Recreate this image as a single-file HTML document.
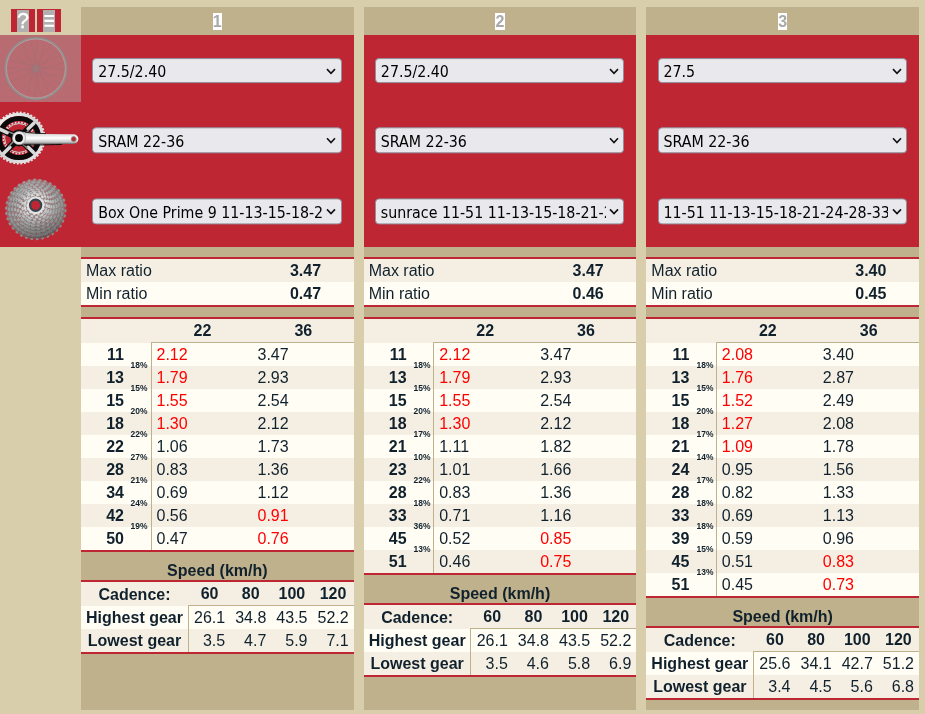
<!DOCTYPE html>
<html><head><meta charset="utf-8"><title>Gear ratios</title>
<style>
html,body{margin:0;padding:0}
body{width:925px;height:714px;overflow:hidden;background:#D9CEAC;position:relative;
 font-family:"Liberation Sans",sans-serif;font-size:16px;color:#10212D}
.abs,.col,.col div,.col span,.left div{position:absolute;box-sizing:border-box}
.col{top:7px;height:703px;width:272.67px;background:#BFB18C;overflow:hidden}
.num{left:0;right:0;top:6px;height:18px;text-align:center;line-height:18px;font-weight:bold;color:#A9A9A9}
.num span{position:static!important;background:#fff;display:inline-block;height:17px;line-height:18px;width:9.4px}
.redbox{left:0;right:0;top:28px;height:212px;background:#BE2633}
.sel{left:11.3px;width:249.4px;height:24.6px;background:#E9E9ED;border:1px solid #8F8F9D;border-radius:4px;
 font-family:"DejaVu Sans Condensed","DejaVu Sans",sans-serif;font-size:15.8px;color:#000;line-height:23px;
 padding:0 24px 0 4px;white-space:nowrap;overflow:hidden}
.sel svg{position:absolute;right:4.4px}
.sel .st{left:4.9px;right:17.7px;top:1px;bottom:-1px;overflow:hidden}
.rl{left:0;right:0;height:2px;background:#BE2633}
.row{left:0;right:0;height:23px;line-height:23px;white-space:nowrap}
.a{background:#F5EFE3}.b{background:#FFFDF4}
.b1{font-weight:bold}
.c{top:0;height:23px}
.pct{font-size:9.3px;font-weight:bold;line-height:10px;height:10px;left:48.2px;width:20px;text-align:center;transform:scaleX(.91)}
.r{color:#F00}
.cap{left:0;right:0;height:18px;line-height:18px;text-align:center;font-weight:bold}
.vb{width:1px;background:#BFB18C}
.hb{height:1px;background:#BFB18C}
.btn{background:#BE2633;top:9px;height:23px;width:24px;text-align:center;color:#fff;font-size:21.5px;line-height:21px;-webkit-text-stroke:.35px #fff}
.btn span{position:static!important;display:inline-block;background:#B0B0B0;width:12px;height:22px;margin-top:1px;line-height:22px;vertical-align:top}
</style></head><body>

<div class="left">
<div class="btn" style="left:11px"><span>?</span></div>
<div class="btn" style="left:37px"><span><i style="display:inline-block;font-style:normal;-webkit-text-stroke:0;transform:translateY(-0.3px) scale(0.92,1.32)">&#8801;</i></span></div>
<div style="left:0;top:35px;width:81px;height:212px;background:#BE2633"></div>
<div style="left:0;top:35px;width:81px;height:66.7px;background:#B86B70"></div>
<svg class="abs" style="left:0;top:35px" width="81" height="212" viewBox="0 35 81 212">
<defs>
<linearGradient id="arm" x1="0" y1="0" x2="0" y2="1"><stop offset="0" stop-color="#8f8f8f"/><stop offset=".18" stop-color="#d9d9d9"/><stop offset=".5" stop-color="#ffffff"/><stop offset=".8" stop-color="#c4c4c4"/><stop offset="1" stop-color="#3a3a3a"/></linearGradient>
<linearGradient id="ring" x1="0" y1="0" x2="1" y2="1"><stop offset="0" stop-color="#f4f4f4"/><stop offset=".5" stop-color="#d2d2d2"/><stop offset="1" stop-color="#e8e8e8"/></linearGradient>
<radialGradient id="cas" cx="0.5" cy="0.44" r="0.55"><stop offset="0" stop-color="#f2f2f2"/><stop offset=".35" stop-color="#dcdcdc"/><stop offset=".7" stop-color="#b4b4b4"/><stop offset="1" stop-color="#a2a2a2"/></radialGradient>
<linearGradient id="casd" x1="0.3" y1="0" x2="0.6" y2="1"><stop offset="0" stop-color="#fff" stop-opacity=".12"/><stop offset=".45" stop-color="#777" stop-opacity="0"/><stop offset="1" stop-color="#303030" stop-opacity=".42"/></linearGradient>
</defs>
<line x1="37.62" y1="66.55" x2="66.46" y2="70.03" stroke="#8e7478" stroke-width=".4" opacity=".7"/>
<line x1="36.81" y1="70.93" x2="65.02" y2="77.89" stroke="#8e7478" stroke-width=".4" opacity=".7"/>
<line x1="38.36" y1="67.67" x2="61.60" y2="85.11" stroke="#8e7478" stroke-width=".4" opacity=".7"/>
<line x1="35.47" y1="71.06" x2="56.43" y2="91.19" stroke="#8e7478" stroke-width=".4" opacity=".7"/>
<line x1="38.45" y1="69.01" x2="49.86" y2="95.73" stroke="#8e7478" stroke-width=".4" opacity=".7"/>
<line x1="34.25" y1="70.51" x2="42.33" y2="98.42" stroke="#8e7478" stroke-width=".4" opacity=".7"/>
<line x1="37.85" y1="70.22" x2="34.37" y2="99.06" stroke="#8e7478" stroke-width=".4" opacity=".7"/>
<line x1="33.47" y1="69.41" x2="26.51" y2="97.62" stroke="#8e7478" stroke-width=".4" opacity=".7"/>
<line x1="36.73" y1="70.96" x2="19.29" y2="94.20" stroke="#8e7478" stroke-width=".4" opacity=".7"/>
<line x1="33.34" y1="68.07" x2="13.21" y2="89.03" stroke="#8e7478" stroke-width=".4" opacity=".7"/>
<line x1="35.39" y1="71.05" x2="8.67" y2="82.46" stroke="#8e7478" stroke-width=".4" opacity=".7"/>
<line x1="33.89" y1="66.85" x2="5.98" y2="74.93" stroke="#8e7478" stroke-width=".4" opacity=".7"/>
<line x1="34.18" y1="70.45" x2="5.34" y2="66.97" stroke="#8e7478" stroke-width=".4" opacity=".7"/>
<line x1="34.99" y1="66.07" x2="6.78" y2="59.11" stroke="#8e7478" stroke-width=".4" opacity=".7"/>
<line x1="33.44" y1="69.33" x2="10.20" y2="51.89" stroke="#8e7478" stroke-width=".4" opacity=".7"/>
<line x1="36.33" y1="65.94" x2="15.37" y2="45.81" stroke="#8e7478" stroke-width=".4" opacity=".7"/>
<line x1="33.35" y1="67.99" x2="21.94" y2="41.27" stroke="#8e7478" stroke-width=".4" opacity=".7"/>
<line x1="37.55" y1="66.49" x2="29.47" y2="38.58" stroke="#8e7478" stroke-width=".4" opacity=".7"/>
<line x1="33.95" y1="66.78" x2="37.43" y2="37.94" stroke="#8e7478" stroke-width=".4" opacity=".7"/>
<line x1="38.33" y1="67.59" x2="45.29" y2="39.38" stroke="#8e7478" stroke-width=".4" opacity=".7"/>
<line x1="35.07" y1="66.04" x2="52.51" y2="42.80" stroke="#8e7478" stroke-width=".4" opacity=".7"/>
<line x1="38.46" y1="68.93" x2="58.59" y2="47.97" stroke="#8e7478" stroke-width=".4" opacity=".7"/>
<line x1="36.41" y1="65.95" x2="63.13" y2="54.54" stroke="#8e7478" stroke-width=".4" opacity=".7"/>
<line x1="37.91" y1="70.15" x2="65.82" y2="62.07" stroke="#8e7478" stroke-width=".4" opacity=".7"/>
<circle cx="35.9" cy="68.5" r="30.6" fill="none" stroke="#8f8f8f" stroke-width="1.7"/>
<circle cx="35.9" cy="68.5" r="29.5" fill="none" stroke="#b9b0b2" stroke-width=".7"/>
<circle cx="35.9" cy="68.7" r="2.3" fill="none" stroke="#868686" stroke-width="1.1"/>
<g>
<circle cx="19.00" cy="138.00" r="25.60" fill="none" stroke="#e4e4e4" stroke-width="1.80" stroke-dasharray="2.011 1.645" />
<circle cx="19.00" cy="138.00" r="23.60" fill="none" stroke="url(#ring)" stroke-width="3.40" />
<circle cx="19.00" cy="138.00" r="19.50" fill="none" stroke="#0b0b0b" stroke-width="5.20" />
<circle cx="19.00" cy="138.00" r="16.90" fill="#BE2633" stroke="#BE2633" stroke-width="0.00" />
<circle cx="19.00" cy="138.00" r="15.60" fill="none" stroke="#dcdcdc" stroke-width="1.60" stroke-dasharray="1.797 1.470" />
<circle cx="19.00" cy="138.00" r="14.40" fill="none" stroke="#cfcfcf" stroke-width="1.00" />
<circle cx="19.00" cy="138.00" r="7.40" fill="none" stroke="#141414" stroke-width="2.00" />
<line x1="19.00" y1="138.00" x2="32.08" y2="124.92" stroke="#0b0b0b" stroke-width="6.4" stroke-linecap="butt"/>
<line x1="28.19" y1="128.81" x2="33.85" y2="123.15" stroke="#dadada" stroke-width="3.6" stroke-linecap="round"/>
<line x1="24.16" y1="134.94" x2="29.06" y2="129.77" stroke="#8a8a8a" stroke-width="1.6"/>
<line x1="19.00" y1="138.00" x2="32.08" y2="151.08" stroke="#0b0b0b" stroke-width="6.4" stroke-linecap="butt"/>
<line x1="28.19" y1="147.19" x2="34.56" y2="153.56" stroke="#dadada" stroke-width="3.6" stroke-linecap="round"/>
<line x1="22.06" y1="143.16" x2="27.23" y2="148.06" stroke="#8a8a8a" stroke-width="1.6"/>
<line x1="19.00" y1="138.00" x2="5.92" y2="151.08" stroke="#0b0b0b" stroke-width="6.4" stroke-linecap="butt"/>
<line x1="9.81" y1="147.19" x2="3.44" y2="153.56" stroke="#dadada" stroke-width="3.6" stroke-linecap="round"/>
<line x1="13.84" y1="141.06" x2="8.94" y2="146.23" stroke="#8a8a8a" stroke-width="1.6"/>
<line x1="19.00" y1="138.00" x2="2.23" y2="130.18" stroke="#0b0b0b" stroke-width="6.4" stroke-linecap="butt"/>
<line x1="7.22" y1="132.51" x2="-2.75" y2="127.86" stroke="#dadada" stroke-width="3.6" stroke-linecap="round"/>
<line x1="14.36" y1="134.20" x2="7.83" y2="131.36" stroke="#8a8a8a" stroke-width="1.6"/>
<path d="M19 131.6 C26 132.2 34 133.6 44 133.9 L73.6 134.3 A4.8 4.8 0 0 1 73.6 143.9 L44 144.3 C34 144.6 27 145 19 144.6 Z" fill="url(#arm)"/>
<path d="M24 144.9 C34 145.2 44 144.9 62 144.4" fill="none" stroke="#111" stroke-width="1"/>
<path d="M25 132.2 C31 133 38 133.4 46 133.6" fill="none" stroke="#1a1a1a" stroke-width=".9"/>
<circle cx="19.00" cy="138.00" r="6.60" fill="#e9e9e9" stroke="#9a9a9a" stroke-width="0.60" />
<circle cx="19.00" cy="138.00" r="3.90" fill="#050505" stroke="none" stroke-width="0.00" />
<circle cx="73.7" cy="139.1" r="2.5" fill="#BE2633" stroke="#8c8c8c" stroke-width=".8"/>
</g>
<g>
<circle cx="35.80" cy="209.40" r="29.50" fill="none" stroke="#8e8e8e" stroke-width="2.6" stroke-dasharray="2.453 2.998" transform="rotate(0 35.80 209.40)"/>
<circle cx="35.80" cy="209.40" r="28.70" fill="#5c5c5c"/>
<circle cx="35.80" cy="209.40" r="28.10" fill="#8e8e8e"/>
<circle cx="35.80" cy="209.40" r="27.20" fill="none" stroke="#b02a35" stroke-width="1.6" stroke-dasharray="1.514 3.532" opacity=".8" transform="rotate(3 35.80 209.40)"/>
<circle cx="35.80" cy="209.40" r="27.30" fill="none" stroke="#3c3c3c" stroke-width="1.2" stroke-dasharray="1.261 3.784" opacity=".75" transform="rotate(8 35.80 209.40)"/>
<circle cx="35.80" cy="208.90" r="26.40" fill="none" stroke="#949494" stroke-width="2.6" stroke-dasharray="2.488 3.041" transform="rotate(7 35.80 208.90)"/>
<circle cx="35.80" cy="208.90" r="25.60" fill="#5c5c5c"/>
<circle cx="35.80" cy="208.90" r="25.00" fill="#949494"/>
<circle cx="35.80" cy="208.90" r="24.10" fill="none" stroke="#b02a35" stroke-width="1.6" stroke-dasharray="1.521 3.548" opacity=".8" transform="rotate(10 35.80 208.90)"/>
<circle cx="35.80" cy="208.90" r="24.20" fill="none" stroke="#3c3c3c" stroke-width="1.2" stroke-dasharray="1.267 3.801" opacity=".75" transform="rotate(15 35.80 208.90)"/>
<circle cx="35.80" cy="208.40" r="23.40" fill="none" stroke="#9c9c9c" stroke-width="2.6" stroke-dasharray="2.450 2.995" transform="rotate(14 35.80 208.40)"/>
<circle cx="35.80" cy="208.40" r="22.60" fill="#5c5c5c"/>
<circle cx="35.80" cy="208.40" r="22.00" fill="#9c9c9c"/>
<circle cx="35.80" cy="208.40" r="21.10" fill="none" stroke="#b02a35" stroke-width="1.6" stroke-dasharray="1.480 3.453" opacity=".8" transform="rotate(17 35.80 208.40)"/>
<circle cx="35.80" cy="208.40" r="21.20" fill="none" stroke="#3c3c3c" stroke-width="1.2" stroke-dasharray="1.233 3.700" opacity=".75" transform="rotate(22 35.80 208.40)"/>
<circle cx="35.80" cy="207.90" r="20.60" fill="none" stroke="#a6a6a6" stroke-width="2.6" stroke-dasharray="2.427 2.966" transform="rotate(21 35.80 207.90)"/>
<circle cx="35.80" cy="207.90" r="19.80" fill="#5c5c5c"/>
<circle cx="35.80" cy="207.90" r="19.20" fill="#a6a6a6"/>
<circle cx="35.80" cy="207.90" r="18.30" fill="none" stroke="#b02a35" stroke-width="1.6" stroke-dasharray="1.445 3.372" opacity=".8" transform="rotate(24 35.80 207.90)"/>
<circle cx="35.80" cy="207.90" r="18.40" fill="none" stroke="#3c3c3c" stroke-width="1.2" stroke-dasharray="1.204 3.613" opacity=".75" transform="rotate(29 35.80 207.90)"/>
<circle cx="35.80" cy="207.40" r="17.90" fill="none" stroke="#b2b2b2" stroke-width="2.6" stroke-dasharray="2.410 2.946" transform="rotate(28 35.80 207.40)"/>
<circle cx="35.80" cy="207.40" r="17.10" fill="#5c5c5c"/>
<circle cx="35.80" cy="207.40" r="16.50" fill="#b2b2b2"/>
<circle cx="35.80" cy="207.40" r="15.60" fill="none" stroke="#b02a35" stroke-width="1.6" stroke-dasharray="1.409 3.288" opacity=".8" transform="rotate(31 35.80 207.40)"/>
<circle cx="35.80" cy="207.40" r="15.70" fill="none" stroke="#3c3c3c" stroke-width="1.2" stroke-dasharray="1.174 3.523" opacity=".75" transform="rotate(36 35.80 207.40)"/>
<circle cx="35.80" cy="206.80" r="15.40" fill="none" stroke="#c0c0c0" stroke-width="2.6" stroke-dasharray="2.419 2.957" transform="rotate(35 35.80 206.80)"/>
<circle cx="35.80" cy="206.80" r="14.60" fill="#5c5c5c"/>
<circle cx="35.80" cy="206.80" r="14.00" fill="#c0c0c0"/>
<circle cx="35.80" cy="206.80" r="13.10" fill="none" stroke="#b02a35" stroke-width="1.6" stroke-dasharray="1.382 3.225" opacity=".8" transform="rotate(38 35.80 206.80)"/>
<circle cx="35.80" cy="206.80" r="13.20" fill="none" stroke="#3c3c3c" stroke-width="1.2" stroke-dasharray="1.152 3.456" opacity=".75" transform="rotate(43 35.80 206.80)"/>
<circle cx="35.80" cy="206.20" r="13.10" fill="none" stroke="#cecece" stroke-width="2.6" stroke-dasharray="2.469 3.018" transform="rotate(42 35.80 206.20)"/>
<circle cx="35.80" cy="206.20" r="12.30" fill="#5c5c5c"/>
<circle cx="35.80" cy="206.20" r="11.70" fill="#cecece"/>
<circle cx="35.80" cy="206.20" r="10.80" fill="none" stroke="#b02a35" stroke-width="1.6" stroke-dasharray="1.370 3.196" opacity=".8" transform="rotate(45 35.80 206.20)"/>
<circle cx="35.80" cy="206.20" r="10.90" fill="none" stroke="#3c3c3c" stroke-width="1.2" stroke-dasharray="1.141 3.424" opacity=".75" transform="rotate(50 35.80 206.20)"/>
<circle cx="35.80" cy="205.80" r="10.90" fill="none" stroke="#dadada" stroke-width="2.6" stroke-dasharray="2.371 2.898" transform="rotate(49 35.80 205.80)"/>
<circle cx="35.80" cy="205.80" r="10.10" fill="#5c5c5c"/>
<circle cx="35.80" cy="205.80" r="9.50" fill="#dadada"/>
<circle cx="35.80" cy="205.80" r="8.60" fill="none" stroke="#b02a35" stroke-width="1.6" stroke-dasharray="1.261 2.943" opacity=".8" transform="rotate(52 35.80 205.80)"/>
<circle cx="35.80" cy="205.80" r="8.70" fill="none" stroke="#3c3c3c" stroke-width="1.2" stroke-dasharray="1.051 3.154" opacity=".75" transform="rotate(57 35.80 205.80)"/>
<circle cx="35.80" cy="209.20" r="30" fill="url(#cas)" opacity=".3"/>
<circle cx="35.80" cy="209.20" r="29.6" fill="url(#casd)"/>
<circle cx="35.6" cy="205.4" r="8.8" fill="#e4e4e4"/>
<circle cx="35.6" cy="205.3" r="5.6" fill="#BE2633" stroke="#39434e" stroke-width="2.2"/>
</g>
</svg>
</div>
<div class="col" style="left:81.00px">
<div class="num"><span>1</span></div>
<div class="redbox">
<div class="sel" style="top:23px;height:24.70px;line-height:23.50px;transform:translateY(0.10px)"><span class="st">27.5/2.40</span><svg style="top:8.75px" width="10" height="7" viewBox="0 0 10 7"><path d="M1 1 L5 5.2 L9 1" fill="none" stroke="#111" stroke-width="1.6"/></svg></div>
<div class="sel" style="top:92px;height:26.10px;line-height:24.90px;transform:translateY(0.30px)"><span class="st" style="top:1.8px;bottom:-1.8px">SRAM 22-36</span><svg style="top:9.45px" width="10" height="7" viewBox="0 0 10 7"><path d="M1 1 L5 5.2 L9 1" fill="none" stroke="#111" stroke-width="1.6"/></svg></div>
<div class="sel" style="top:163px;height:26.00px;line-height:24.80px;transform:translateY(0.40px)"><span class="st" style="top:1.8px;bottom:-1.8px">Box One Prime 9 11-13-15-18-22-28-34-42-50</span><svg style="top:9.40px" width="10" height="7" viewBox="0 0 10 7"><path d="M1 1 L5 5.2 L9 1" fill="none" stroke="#111" stroke-width="1.6"/></svg></div>
</div>
<div class="rl" style="top:250px"></div>
<div class="row a" style="top:252px"><span class="c" style="left:5px">Max ratio</span><span class="c b1" style="left:204.5px;width:40px;text-align:center">3.47</span></div>
<div class="row b" style="top:275px"><span class="c" style="left:5px">Min ratio</span><span class="c b1" style="left:204.5px;width:40px;text-align:center">0.47</span></div>
<div class="rl" style="top:298px"></div>
<div class="rl" style="top:310px"></div>
<div class="row a b1" style="top:312px;height:24px"><span class="c" style="left:71px;width:101px;text-align:center">22</span><span class="c" style="left:172px;width:100.67px;text-align:center">36</span></div>
<div class="row b" style="top:336px"><span class="c b1" style="left:20px;width:23px;text-align:right">11</span><span class="c r" style="left:75.5px">2.12</span><span class="c" style="left:176.5px">3.47</span></div>
<div class="row a" style="top:359px"><span class="c b1" style="left:20px;width:23px;text-align:right">13</span><span class="c r" style="left:75.5px">1.79</span><span class="c" style="left:176.5px">2.93</span></div>
<div class="row b" style="top:382px"><span class="c b1" style="left:20px;width:23px;text-align:right">15</span><span class="c r" style="left:75.5px">1.55</span><span class="c" style="left:176.5px">2.54</span></div>
<div class="row a" style="top:405px"><span class="c b1" style="left:20px;width:23px;text-align:right">18</span><span class="c r" style="left:75.5px">1.30</span><span class="c" style="left:176.5px">2.12</span></div>
<div class="row b" style="top:428px"><span class="c b1" style="left:20px;width:23px;text-align:right">22</span><span class="c" style="left:75.5px">1.06</span><span class="c" style="left:176.5px">1.73</span></div>
<div class="row a" style="top:451px"><span class="c b1" style="left:20px;width:23px;text-align:right">28</span><span class="c" style="left:75.5px">0.83</span><span class="c" style="left:176.5px">1.36</span></div>
<div class="row b" style="top:474px"><span class="c b1" style="left:20px;width:23px;text-align:right">34</span><span class="c" style="left:75.5px">0.69</span><span class="c" style="left:176.5px">1.12</span></div>
<div class="row a" style="top:497px"><span class="c b1" style="left:20px;width:23px;text-align:right">42</span><span class="c" style="left:75.5px">0.56</span><span class="c r" style="left:176.5px">0.91</span></div>
<div class="row b" style="top:520px"><span class="c b1" style="left:20px;width:23px;text-align:right">50</span><span class="c" style="left:75.5px">0.47</span><span class="c r" style="left:176.5px">0.76</span></div>
<div class="pct" style="top:353px">18%</div>
<div class="pct" style="top:376px">15%</div>
<div class="pct" style="top:399px">20%</div>
<div class="pct" style="top:422px">22%</div>
<div class="pct" style="top:445px">27%</div>
<div class="pct" style="top:468px">21%</div>
<div class="pct" style="top:491px">24%</div>
<div class="pct" style="top:514px">19%</div>
<div class="vb" style="left:70.0px;top:335px;height:208px"></div>
<div class="hb" style="left:70.0px;right:0;top:335px"></div>
<div class="rl" style="top:543px"></div>
<div class="cap" style="top:555px">Speed (km/h)</div>
<div class="rl" style="top:573px"></div>
<div class="row a b1" style="top:575px;height:24px"><span class="c" style="left:0;top:1px;width:107px;text-align:center">Cadence:</span><span class="c " style="left:108.00px;width:41.17px;text-align:center">60</span><span class="c " style="left:149.17px;width:41.17px;text-align:center">80</span><span class="c " style="left:190.34px;width:41.17px;text-align:center">100</span><span class="c " style="left:231.50px;width:41.17px;text-align:center">120</span></div>
<div class="row b" style="top:599px"><span class="c b1" style="left:0;width:107px;text-align:center">Highest gear</span><span class="c " style="left:108.00px;width:41.17px;text-align:right;padding-right:5px">26.1</span><span class="c " style="left:149.17px;width:41.17px;text-align:right;padding-right:5px">34.8</span><span class="c " style="left:190.34px;width:41.17px;text-align:right;padding-right:5px">43.5</span><span class="c " style="left:231.50px;width:41.17px;text-align:right;padding-right:5px">52.2</span></div>
<div class="row a" style="top:622px"><span class="c b1" style="left:0;width:107px;text-align:center">Lowest gear</span><span class="c " style="left:108.00px;width:41.17px;text-align:right;padding-right:5px">3.5</span><span class="c " style="left:149.17px;width:41.17px;text-align:right;padding-right:5px">4.7</span><span class="c " style="left:190.34px;width:41.17px;text-align:right;padding-right:5px">5.9</span><span class="c " style="left:231.50px;width:41.17px;text-align:right;padding-right:5px">7.1</span></div>
<div class="vb" style="left:107.0px;top:598px;height:47px"></div>
<div class="hb" style="left:107.0px;right:0;top:598px"></div>
<div class="rl" style="top:645px"></div>
</div>
<div class="col" style="left:363.67px">
<div class="num"><span>2</span></div>
<div class="redbox">
<div class="sel" style="top:23px;height:24.70px;line-height:23.50px;transform:translateY(0.10px)"><span class="st">27.5/2.40</span><svg style="top:8.75px" width="10" height="7" viewBox="0 0 10 7"><path d="M1 1 L5 5.2 L9 1" fill="none" stroke="#111" stroke-width="1.6"/></svg></div>
<div class="sel" style="top:92px;height:26.10px;line-height:24.90px;transform:translateY(0.30px)"><span class="st" style="top:1.8px;bottom:-1.8px">SRAM 22-36</span><svg style="top:9.45px" width="10" height="7" viewBox="0 0 10 7"><path d="M1 1 L5 5.2 L9 1" fill="none" stroke="#111" stroke-width="1.6"/></svg></div>
<div class="sel" style="top:163px;height:26.00px;line-height:24.80px;transform:translateY(0.40px)"><span class="st" style="top:1.8px;bottom:-1.8px">sunrace 11-51 11-13-15-18-21-23-28-33-45-51</span><svg style="top:9.40px" width="10" height="7" viewBox="0 0 10 7"><path d="M1 1 L5 5.2 L9 1" fill="none" stroke="#111" stroke-width="1.6"/></svg></div>
</div>
<div class="rl" style="top:250px"></div>
<div class="row a" style="top:252px"><span class="c" style="left:5px">Max ratio</span><span class="c b1" style="left:204.5px;width:40px;text-align:center">3.47</span></div>
<div class="row b" style="top:275px"><span class="c" style="left:5px">Min ratio</span><span class="c b1" style="left:204.5px;width:40px;text-align:center">0.46</span></div>
<div class="rl" style="top:298px"></div>
<div class="rl" style="top:310px"></div>
<div class="row a b1" style="top:312px;height:24px"><span class="c" style="left:71px;width:101px;text-align:center">22</span><span class="c" style="left:172px;width:100.67px;text-align:center">36</span></div>
<div class="row b" style="top:336px"><span class="c b1" style="left:20px;width:23px;text-align:right">11</span><span class="c r" style="left:75.5px">2.12</span><span class="c" style="left:176.5px">3.47</span></div>
<div class="row a" style="top:359px"><span class="c b1" style="left:20px;width:23px;text-align:right">13</span><span class="c r" style="left:75.5px">1.79</span><span class="c" style="left:176.5px">2.93</span></div>
<div class="row b" style="top:382px"><span class="c b1" style="left:20px;width:23px;text-align:right">15</span><span class="c r" style="left:75.5px">1.55</span><span class="c" style="left:176.5px">2.54</span></div>
<div class="row a" style="top:405px"><span class="c b1" style="left:20px;width:23px;text-align:right">18</span><span class="c r" style="left:75.5px">1.30</span><span class="c" style="left:176.5px">2.12</span></div>
<div class="row b" style="top:428px"><span class="c b1" style="left:20px;width:23px;text-align:right">21</span><span class="c" style="left:75.5px">1.11</span><span class="c" style="left:176.5px">1.82</span></div>
<div class="row a" style="top:451px"><span class="c b1" style="left:20px;width:23px;text-align:right">23</span><span class="c" style="left:75.5px">1.01</span><span class="c" style="left:176.5px">1.66</span></div>
<div class="row b" style="top:474px"><span class="c b1" style="left:20px;width:23px;text-align:right">28</span><span class="c" style="left:75.5px">0.83</span><span class="c" style="left:176.5px">1.36</span></div>
<div class="row a" style="top:497px"><span class="c b1" style="left:20px;width:23px;text-align:right">33</span><span class="c" style="left:75.5px">0.71</span><span class="c" style="left:176.5px">1.16</span></div>
<div class="row b" style="top:520px"><span class="c b1" style="left:20px;width:23px;text-align:right">45</span><span class="c" style="left:75.5px">0.52</span><span class="c r" style="left:176.5px">0.85</span></div>
<div class="row a" style="top:543px"><span class="c b1" style="left:20px;width:23px;text-align:right">51</span><span class="c" style="left:75.5px">0.46</span><span class="c r" style="left:176.5px">0.75</span></div>
<div class="pct" style="top:353px">18%</div>
<div class="pct" style="top:376px">15%</div>
<div class="pct" style="top:399px">20%</div>
<div class="pct" style="top:422px">17%</div>
<div class="pct" style="top:445px">10%</div>
<div class="pct" style="top:468px">22%</div>
<div class="pct" style="top:491px">18%</div>
<div class="pct" style="top:514px">36%</div>
<div class="pct" style="top:537px">13%</div>
<div class="vb" style="left:69.4px;top:335px;height:231px"></div>
<div class="hb" style="left:69.4px;right:0;top:335px"></div>
<div class="rl" style="top:566px"></div>
<div class="cap" style="top:578px">Speed (km/h)</div>
<div class="rl" style="top:596px"></div>
<div class="row a b1" style="top:598px;height:24px"><span class="c" style="left:0;top:1px;width:107px;text-align:center">Cadence:</span><span class="c " style="left:108.00px;width:41.17px;text-align:center">60</span><span class="c " style="left:149.17px;width:41.17px;text-align:center">80</span><span class="c " style="left:190.34px;width:41.17px;text-align:center">100</span><span class="c " style="left:231.50px;width:41.17px;text-align:center">120</span></div>
<div class="row b" style="top:622px"><span class="c b1" style="left:0;width:107px;text-align:center">Highest gear</span><span class="c " style="left:108.00px;width:41.17px;text-align:right;padding-right:5px">26.1</span><span class="c " style="left:149.17px;width:41.17px;text-align:right;padding-right:5px">34.8</span><span class="c " style="left:190.34px;width:41.17px;text-align:right;padding-right:5px">43.5</span><span class="c " style="left:231.50px;width:41.17px;text-align:right;padding-right:5px">52.2</span></div>
<div class="row a" style="top:645px"><span class="c b1" style="left:0;width:107px;text-align:center">Lowest gear</span><span class="c " style="left:108.00px;width:41.17px;text-align:right;padding-right:5px">3.5</span><span class="c " style="left:149.17px;width:41.17px;text-align:right;padding-right:5px">4.6</span><span class="c " style="left:190.34px;width:41.17px;text-align:right;padding-right:5px">5.8</span><span class="c " style="left:231.50px;width:41.17px;text-align:right;padding-right:5px">6.9</span></div>
<div class="vb" style="left:106.4px;top:621px;height:47px"></div>
<div class="hb" style="left:106.4px;right:0;top:621px"></div>
<div class="rl" style="top:668px"></div>
</div>
<div class="col" style="left:646.34px">
<div class="num"><span>3</span></div>
<div class="redbox">
<div class="sel" style="top:23px;height:24.70px;line-height:23.50px;transform:translateY(0.10px)"><span class="st">27.5</span><svg style="top:8.75px" width="10" height="7" viewBox="0 0 10 7"><path d="M1 1 L5 5.2 L9 1" fill="none" stroke="#111" stroke-width="1.6"/></svg></div>
<div class="sel" style="top:92px;height:26.10px;line-height:24.90px;transform:translateY(0.30px)"><span class="st" style="top:1.8px;bottom:-1.8px">SRAM 22-36</span><svg style="top:9.45px" width="10" height="7" viewBox="0 0 10 7"><path d="M1 1 L5 5.2 L9 1" fill="none" stroke="#111" stroke-width="1.6"/></svg></div>
<div class="sel" style="top:163px;height:26.00px;line-height:24.80px;transform:translateY(0.40px)"><span class="st" style="top:1.8px;bottom:-1.8px">11-51 11-13-15-18-21-24-28-33-39-45-51</span><svg style="top:9.40px" width="10" height="7" viewBox="0 0 10 7"><path d="M1 1 L5 5.2 L9 1" fill="none" stroke="#111" stroke-width="1.6"/></svg></div>
</div>
<div class="rl" style="top:250px"></div>
<div class="row a" style="top:252px"><span class="c" style="left:5px">Max ratio</span><span class="c b1" style="left:204.5px;width:40px;text-align:center">3.40</span></div>
<div class="row b" style="top:275px"><span class="c" style="left:5px">Min ratio</span><span class="c b1" style="left:204.5px;width:40px;text-align:center">0.45</span></div>
<div class="rl" style="top:298px"></div>
<div class="rl" style="top:310px"></div>
<div class="row a b1" style="top:312px;height:24px"><span class="c" style="left:71px;width:101px;text-align:center">22</span><span class="c" style="left:172px;width:100.67px;text-align:center">36</span></div>
<div class="row b" style="top:336px"><span class="c b1" style="left:20px;width:23px;text-align:right">11</span><span class="c r" style="left:75.5px">2.08</span><span class="c" style="left:176.5px">3.40</span></div>
<div class="row a" style="top:359px"><span class="c b1" style="left:20px;width:23px;text-align:right">13</span><span class="c r" style="left:75.5px">1.76</span><span class="c" style="left:176.5px">2.87</span></div>
<div class="row b" style="top:382px"><span class="c b1" style="left:20px;width:23px;text-align:right">15</span><span class="c r" style="left:75.5px">1.52</span><span class="c" style="left:176.5px">2.49</span></div>
<div class="row a" style="top:405px"><span class="c b1" style="left:20px;width:23px;text-align:right">18</span><span class="c r" style="left:75.5px">1.27</span><span class="c" style="left:176.5px">2.08</span></div>
<div class="row b" style="top:428px"><span class="c b1" style="left:20px;width:23px;text-align:right">21</span><span class="c r" style="left:75.5px">1.09</span><span class="c" style="left:176.5px">1.78</span></div>
<div class="row a" style="top:451px"><span class="c b1" style="left:20px;width:23px;text-align:right">24</span><span class="c" style="left:75.5px">0.95</span><span class="c" style="left:176.5px">1.56</span></div>
<div class="row b" style="top:474px"><span class="c b1" style="left:20px;width:23px;text-align:right">28</span><span class="c" style="left:75.5px">0.82</span><span class="c" style="left:176.5px">1.33</span></div>
<div class="row a" style="top:497px"><span class="c b1" style="left:20px;width:23px;text-align:right">33</span><span class="c" style="left:75.5px">0.69</span><span class="c" style="left:176.5px">1.13</span></div>
<div class="row b" style="top:520px"><span class="c b1" style="left:20px;width:23px;text-align:right">39</span><span class="c" style="left:75.5px">0.59</span><span class="c" style="left:176.5px">0.96</span></div>
<div class="row a" style="top:543px"><span class="c b1" style="left:20px;width:23px;text-align:right">45</span><span class="c" style="left:75.5px">0.51</span><span class="c r" style="left:176.5px">0.83</span></div>
<div class="row b" style="top:566px"><span class="c b1" style="left:20px;width:23px;text-align:right">51</span><span class="c" style="left:75.5px">0.45</span><span class="c r" style="left:176.5px">0.73</span></div>
<div class="pct" style="top:353px">18%</div>
<div class="pct" style="top:376px">15%</div>
<div class="pct" style="top:399px">20%</div>
<div class="pct" style="top:422px">17%</div>
<div class="pct" style="top:445px">14%</div>
<div class="pct" style="top:468px">17%</div>
<div class="pct" style="top:491px">18%</div>
<div class="pct" style="top:514px">18%</div>
<div class="pct" style="top:537px">15%</div>
<div class="pct" style="top:560px">13%</div>
<div class="vb" style="left:70.0px;top:335px;height:254px"></div>
<div class="hb" style="left:70.0px;right:0;top:335px"></div>
<div class="rl" style="top:589px"></div>
<div class="cap" style="top:601px">Speed (km/h)</div>
<div class="rl" style="top:619px"></div>
<div class="row a b1" style="top:621px;height:24px"><span class="c" style="left:0;top:1px;width:107px;text-align:center">Cadence:</span><span class="c " style="left:108.00px;width:41.17px;text-align:center">60</span><span class="c " style="left:149.17px;width:41.17px;text-align:center">80</span><span class="c " style="left:190.34px;width:41.17px;text-align:center">100</span><span class="c " style="left:231.50px;width:41.17px;text-align:center">120</span></div>
<div class="row b" style="top:645px"><span class="c b1" style="left:0;width:107px;text-align:center">Highest gear</span><span class="c " style="left:108.00px;width:41.17px;text-align:right;padding-right:5px">25.6</span><span class="c " style="left:149.17px;width:41.17px;text-align:right;padding-right:5px">34.1</span><span class="c " style="left:190.34px;width:41.17px;text-align:right;padding-right:5px">42.7</span><span class="c " style="left:231.50px;width:41.17px;text-align:right;padding-right:5px">51.2</span></div>
<div class="row a" style="top:668px"><span class="c b1" style="left:0;width:107px;text-align:center">Lowest gear</span><span class="c " style="left:108.00px;width:41.17px;text-align:right;padding-right:5px">3.4</span><span class="c " style="left:149.17px;width:41.17px;text-align:right;padding-right:5px">4.5</span><span class="c " style="left:190.34px;width:41.17px;text-align:right;padding-right:5px">5.6</span><span class="c " style="left:231.50px;width:41.17px;text-align:right;padding-right:5px">6.8</span></div>
<div class="vb" style="left:107.0px;top:644px;height:47px"></div>
<div class="hb" style="left:107.0px;right:0;top:644px"></div>
<div class="rl" style="top:691px"></div>
</div>
</body></html>
